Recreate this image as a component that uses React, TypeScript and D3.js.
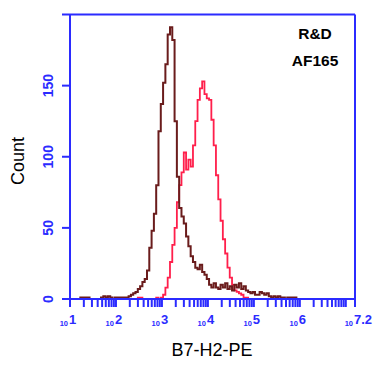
import * as d3 from "d3";

// histogram bins: log10 spacing of 0.05 decade, value = bin centre
const binWidth = 0.05;
const controlFirst = 1.2;
const controlCounts = [
  0, 1, 1, 1, 1, 0, 0, 0, 0, 0, 1, 2, 1, 2, 1, 0, 1, 1, 1, 1,
  1, 1, 2, 3, 4, 5, 7, 9, 12, 14, 20, 36, 48, 60, 80, 118, 137, 152, 165, 186,
  191, 182, 125, 86, 64, 58, 53, 44, 37, 30, 26, 22, 21, 24, 19, 17, 14, 10, 8, 11,
  8, 7, 10, 8, 11, 7, 9, 6, 10, 8, 11, 7, 9, 6, 5, 4, 5, 3, 3, 5,
  4, 3, 4, 2, 1, 2, 1, 2, 1, 1, 0, 1, 1, 1, 1, 0,
];
const stainFirst = 2.45;
const stainCounts = [
  0, 1, 1, 0, 0, 0, 0, 0, 0, 1, 0, 1, 3, 8, 15, 26, 38, 50, 68, 80,
  89, 103, 91, 98, 93, 108, 125, 140, 148, 153, 144, 141, 140, 126, 108, 87, 70, 55, 42, 32,
  22, 15, 10, 6, 5, 4, 3, 1, 1, 0,
];

const yTicks = [0, 50, 100, 150];
const decades = [1, 2, 3, 4, 5, 6];
const xMaxExp = 7.2;
const xLabels = ["1", "2", "3", "4", "5", "6", "7.2"];
const notes = ["R&D", "AF165"];

const blue = "#2b2bff";
const font = "Arial, 'Liberation Sans', sans-serif";

export default function App() {
  const left = 70, right = 355, top = 14.5, bottom = 299;

  const x = d3.scaleLog().domain([10, Math.pow(10, xMaxExp)]).range([left, right]);
  const y = d3.scaleLinear().domain([0, 200]).range([bottom, top]);

  const stepPath = (first: number, counts: number[]) => {
    const pts: [number, number][] = counts.map((c, i) => [first - binWidth / 2 + i * binWidth, c]);
    pts.push([first - binWidth / 2 + counts.length * binWidth, counts[counts.length - 1]]);
    return d3.line<[number, number]>()
      .x(d => x(Math.pow(10, d[0])))
      .y(d => y(d[1]))
      .curve(d3.curveStepAfter)(pts) || "";
  };

  // minor + major ticks along the log axis
  const xTickVals: number[] = [];
  decades.forEach(d => {
    for (let m = 1; m <= 9; m++) {
      const v = m * Math.pow(10, d);
      if (Math.log10(v) <= xMaxExp) xTickVals.push(v);
    }
  });
  xTickVals.push(1e7);
  xTickVals.push(Math.pow(10, xMaxExp));

  const labelPos = decades.map(d => Math.pow(10, d)).concat([Math.pow(10, xMaxExp)]);

  return (
    <svg width={382} height={372} style={{ position: "absolute", left: 0, top: 0, background: "#fff" }}>
      <path d={stepPath(stainFirst, stainCounts)} fill="none" stroke="#ff1f4b" strokeWidth={1.8} />
      <path d={stepPath(controlFirst, controlCounts)} fill="none" stroke="#6a1c1c" strokeWidth={2} />

      {/* frame */}
      <g stroke={blue} strokeWidth={2} fill="none">
        <line x1={left - 8} x2={right} y1={top} y2={top} />
        <line x1={right} x2={right} y1={top} y2={bottom} />
        <line x1={left} x2={left} y1={top} y2={bottom} />
        <line x1={left} x2={right} y1={bottom} y2={bottom} />
        {yTicks.map(t => (
          <line key={t} x1={left - 8} x2={left} y1={y(t)} y2={y(t)} />
        ))}
        {xTickVals.map((v, i) => (
          <line key={i} x1={x(v)} x2={x(v)} y1={bottom} y2={bottom + 8} />
        ))}
      </g>

      {yTicks.map(t => (
        <text key={t} transform={`translate(53,${y(t)}) rotate(-90)`} textAnchor="middle"
          fontFamily={font} fontWeight="bold" fontSize={14} fill={blue}>{t}</text>
      ))}

      {xLabels.map((lab, i) => {
        const px = x(labelPos[i]);
        return (
          <g key={lab} fontFamily={font} fontWeight="bold" fill={blue}>
            <text x={px - 2} y={326} textAnchor="end" fontSize={7.5}>10</text>
            <text x={px - 1} y={324} textAnchor="start" fontSize={13}>{lab}</text>
          </g>
        );
      })}

      <text transform="translate(24,161) rotate(-90)" textAnchor="middle" fontFamily={font} fontSize={18} fill="#000">Count</text>
      <text x={212} y={356} textAnchor="middle" fontFamily={font} fontSize={18} fill="#000">B7-H2-PE</text>

      {notes.map((n, i) => (
        <text key={n} x={315} y={39 + i * 27} textAnchor="middle" fontFamily={font} fontWeight="bold" fontSize={15.5} fill="#000">{n}</text>
      ))}
    </svg>
  );
}
